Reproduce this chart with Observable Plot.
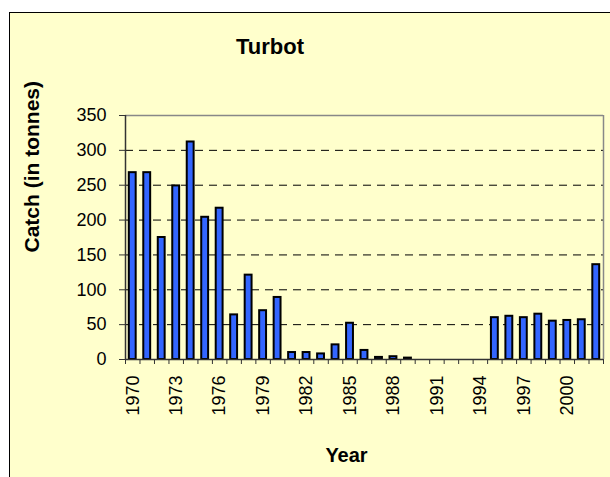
<!DOCTYPE html>
<html>
<head>
<meta charset="utf-8">
<script src="https://cdn.jsdelivr.net/npm/d3@7"></script>
<script src="https://cdn.jsdelivr.net/npm/@observablehq/plot@0.6"></script>
<style>
  html, body { margin: 0; padding: 0; background: #ffffff; width: 610px; height: 477px; overflow: hidden; }
  #frame { position: absolute; left: 9px; top: 12px; width: 700px; height: 600px;
           background: #FFFFCC; border-left: 1px solid #000; border-top: 1px solid #000; }
  #title { position: absolute; left: 170px; width: 200px; top: 36px; text-align: center;
           font: bold 22px "Liberation Sans", Arial, sans-serif; line-height: 22px; color: #000; }
  #chart { position: absolute; left: 0; top: 0; }
</style>
</head>
<body>
<div id="frame"></div>
<div id="title">Turbot</div>
<div id="chart"></div>
<script>
const years = [1970,1971,1972,1973,1974,1975,1976,1977,1978,1979,1980,1981,1982,1983,1984,1985,1986,1987,1988,1989,1990,1991,1992,1993,1994,1995,1996,1997,1998,1999,2000,2001,2002];
const catches = [268,268,175,249,312,204,217,64,121,70,89,10,10,8,21,52,13,3,4,2,0,0,0,0,0,60,62,60,65,55,56,57,136];
const yTicks = [0,50,100,150,200,250,300,350];
const labelYears = [1970,1973,1976,1979,1982,1985,1988,1991,1994,1997,2000];
const yLabel = "Catch (in tonnes)";
const xLabel = "Year";

const data = years.map((year, i) => ({year, catch: catches[i]}));
const edges = [...years.map(y => y - 0.5), years[years.length - 1] + 0.5];
const xDomain = [years[0] - 0.5, years[years.length - 1] + 0.5];

const chart = Plot.plot({
  width: 610,
  height: 477,
  marginLeft: 125,
  marginRight: 7,
  marginTop: 115,
  marginBottom: 118,
  style: {background: "transparent", fontFamily: "'Liberation Sans', Arial, sans-serif", fontSize: "18px", color: "#000", overflow: "visible"},
  x: {type: "linear", domain: xDomain},
  y: {domain: [yTicks[0], yTicks[yTicks.length - 1]]},
  marks: [
    Plot.ruleY(yTicks.filter(v => v > 0 && v < 350), {stroke: "#000", strokeDasharray: "8,6", strokeWidth: 1}),
    Plot.ruleY([350], {stroke: "#888", strokeWidth: 1.5}),
    Plot.ruleX([xDomain[1]], {stroke: "#888", strokeWidth: 1.5}),
    Plot.rectY(data.filter(d => d.catch > 0), {
      x1: d => d.year - 0.5, x2: d => d.year + 0.5, y: "catch",
      insetLeft: 3.8, insetRight: 3.8,
      fill: "#3366FF", stroke: "#000", strokeWidth: 2
    }),
    Plot.ruleX([xDomain[0]], {stroke: "#333", strokeWidth: 1.5}),
    Plot.ruleY([0], {stroke: "#333", strokeWidth: 1.5}),
    Plot.axisY({ticks: yTicks, tickSize: 6, tickPadding: 13, fontSize: 18, label: null, stroke: "#333"}),
    Plot.axisX({ticks: edges, tickSize: 5, tickFormat: () => "", label: null, stroke: "#333"}),
    Plot.axisX({ticks: labelYears, tickSize: 0, tickRotate: -90, tickPadding: 16, fontSize: 18, tickFormat: d => String(d), label: null}),
    Plot.text([yLabel], {text: d => d, frameAnchor: "left", rotate: -90, dx: -93, dy: 15, fontWeight: "bold", fontSize: 21, fill: "#000"}),
    Plot.text([xLabel], {text: d => d, frameAnchor: "bottom", dx: -18, dy: 102, fontWeight: "bold", fontSize: 20, fill: "#000"})
  ]
});
document.getElementById("chart").appendChild(chart);
</script>
</body>
</html>
